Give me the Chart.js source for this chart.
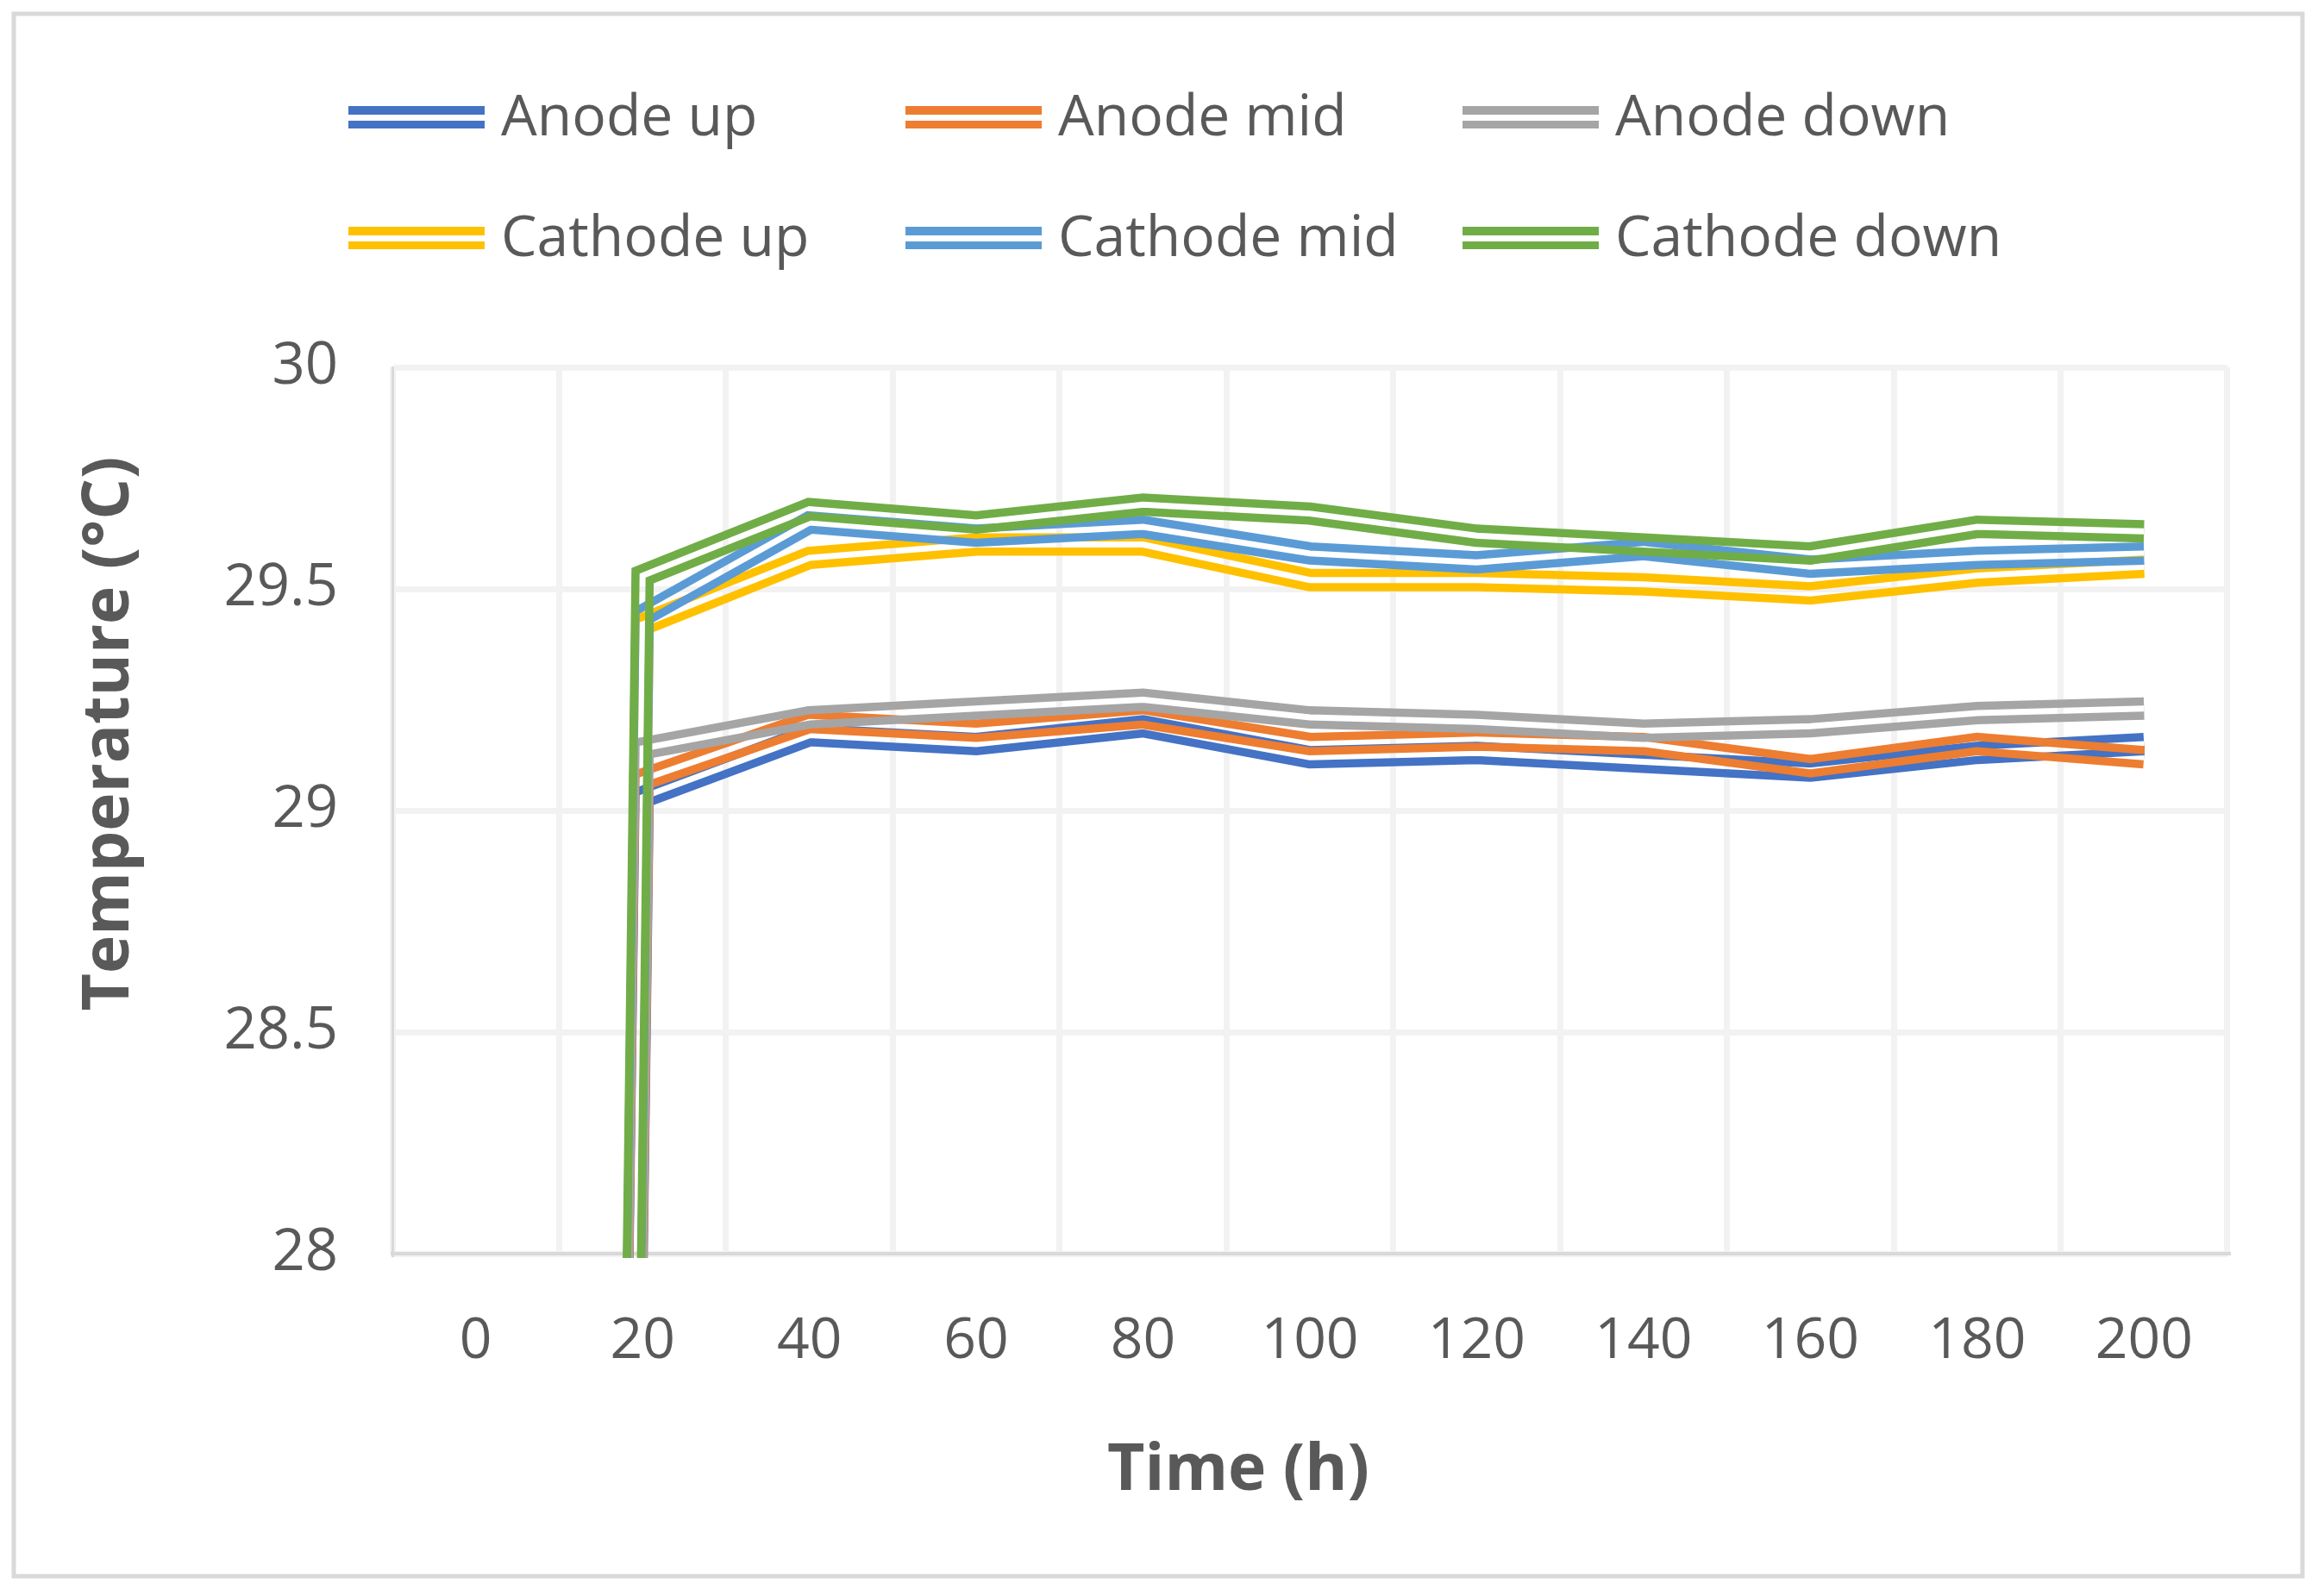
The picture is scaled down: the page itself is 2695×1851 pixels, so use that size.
<!DOCTYPE html>
<html>
<head>
<meta charset="utf-8">
<title>Temperature vs time</title>
<script src="https://cdn.jsdelivr.net/npm/chart.js@4.4.1/dist/chart.umd.min.js"></script>
<style>
    html, body { margin: 0; padding: 0; background: #fff; }
    #wrap { position: relative; width: 2695px; height: 1851px; }
</style>
</head>
<body>
<div id="wrap"><canvas id="tempChart" width="2695" height="1851"></canvas></div>
<script>
// values (time 0 sits at 0, far under the axis)
var timeLabels = ['0', '20', '40', '60', '80', '100', '120', '140', '160', '180', '200'];
var anodeUp     = [0, 29.03, 29.17, 29.15, 29.19, 29.12, 29.13, 29.11, 29.09, 29.13, 29.15];
var anodeMid    = [0, 29.07, 29.20, 29.18, 29.21, 29.15, 29.16, 29.15, 29.10, 29.15, 29.12];
var anodeDown   = [0, 29.14, 29.21, 29.23, 29.25, 29.21, 29.20, 29.18, 29.19, 29.22, 29.23];
var cathodeUp   = [0, 29.42, 29.57, 29.60, 29.60, 29.52, 29.52, 29.51, 29.49, 29.53, 29.55];
var cathodeMid  = [0, 29.44, 29.65, 29.62, 29.64, 29.58, 29.56, 29.59, 29.55, 29.57, 29.58];
var cathodeDown = [0, 29.53, 29.68, 29.65, 29.69, 29.67, 29.62, 29.60, 29.58, 29.64, 29.63];
var yTicks = [28, 28.5, 29, 29.5, 30];

var seriesNames = ['Anode up', 'Anode mid', 'Anode down', 'Cathode up', 'Cathode mid', 'Cathode down'];
var seriesData = [anodeUp, anodeMid, anodeDown, cathodeUp, cathodeMid, cathodeDown];
var seriesColors = ['#4472c4', '#ed7d31', '#a5a5a5', '#ffc000', '#5b9bd5', '#70ad47'];

var textColor = '#595959';
var fontFam = '"Open Sans", "Noto Sans", sans-serif';

// excel "double" line: full width, then cut the middle out
var lineW = 26;
var gapW = 7;

var frame = {
    id: 'frame',
    beforeDraw: function (chart) {
        var ctx = chart.ctx;
        ctx.save();
        ctx.fillStyle = '#fff';
        ctx.fillRect(0, 0, chart.width, chart.height);
        ctx.strokeStyle = '#d9d9d9';
        ctx.lineWidth = 5;
        ctx.strokeRect(16, 16, 2654, 1812);
        ctx.restore();
    }
};

var doubleLine = {
    id: 'doubleLine',
    afterDatasetsDraw: function (chart) {
        var area = chart.chartArea;
        var off = document.createElement('canvas');
        off.width = chart.canvas.width;
        off.height = chart.canvas.height;
        var octx = off.getContext('2d');

        chart.data.datasets.forEach(function (ds, i) {
            var pts = chart.getDatasetMeta(i).data;
            octx.clearRect(0, 0, off.width, off.height);
            octx.lineJoin = 'miter';
            octx.miterLimit = 10;
            octx.lineCap = 'butt';
            octx.beginPath();
            pts.forEach(function (p, k) {
                if (k == 0) {
                    octx.moveTo(p.x, p.y);
                } else {
                    octx.lineTo(p.x, p.y);
                }
            });
            octx.globalCompositeOperation = 'source-over';
            octx.strokeStyle = ds.borderColor;
            octx.lineWidth = lineW;
            octx.stroke();
            octx.globalCompositeOperation = 'destination-out';
            octx.lineWidth = gapW;
            octx.stroke();
            octx.globalCompositeOperation = 'source-over';

            var ctx = chart.ctx;
            ctx.save();
            ctx.beginPath();
            ctx.rect(area.left, area.top, area.right - area.left, area.bottom - area.top + 5);
            ctx.clip();
            ctx.drawImage(off, 0, 0);
            ctx.restore();
        });
    }
};

var legendAndTitles = {
    id: 'legendAndTitles',
    afterDraw: function (chart) {
        var ctx = chart.ctx;
        var textX = [581, 1227, 1873];
        var baseY = [157, 297];
        ctx.save();
        ctx.font = '66px ' + fontFam;
        ctx.textAlign = 'left';
        ctx.textBaseline = 'alphabetic';
        seriesNames.forEach(function (name, i) {
            var col = i % 3;
            var row = Math.floor(i / 3);
            var sx = textX[col] - 19 - 158;
            var cy = baseY[row] - 21;
            ctx.fillStyle = seriesColors[i];
            ctx.fillRect(sx, cy - 13, 158, 10);
            ctx.fillRect(sx, cy + 4, 158, 9);
            ctx.fillStyle = textColor;
            ctx.fillText(name, textX[col], baseY[row]);
        });

        ctx.font = 'bold 75px ' + fontFam;
        ctx.textAlign = 'center';
        ctx.fillText('Time (h)', 1436, 1728);

        ctx.translate(149, 851);
        ctx.rotate(-Math.PI / 2);
        ctx.fillText('Temperature (°C)', 0, 0);
        ctx.restore();
    }
};

var datasets = [];
for (var i = 0; i < seriesNames.length; i++) {
    datasets.push({
        label: seriesNames[i],
        data: seriesData[i],
        borderColor: seriesColors[i],
        backgroundColor: seriesColors[i],
        showLine: false,
        pointRadius: 0,
        pointHoverRadius: 0
    });
}

var ctx = document.getElementById('tempChart');
var tempChart = new Chart(ctx, {
    type: 'line',
    data: {
        labels: timeLabels,
        datasets: datasets
    },
    plugins: [frame, doubleLine, legendAndTitles],
    options: {
        responsive: false,
        devicePixelRatio: 1,
        animation: false,
        events: [],
        layout: {
            padding: {left: 60, right: 112, top: 426, bottom: 247}
        },
        plugins: {
            legend: {display: false},
            tooltip: {enabled: false}
        },
        scales: {
            x: {
                type: 'category',
                offset: true,
                grid: {
                    offset: true,
                    color: '#f2f2f2',
                    lineWidth: 7,
                    drawTicks: false
                },
                border: {color: '#d9d9d9', width: 4},
                ticks: {
                    color: textColor,
                    font: {family: fontFam, size: 66},
                    padding: 63,
                    maxRotation: 0,
                    autoSkip: false
                },
                afterFit: function (scale) {
                    scale.height = 150;
                }
            },
            y: {
                min: 28,
                max: 30,
                afterBuildTicks: function (axis) {
                    axis.ticks = yTicks.map(function (v) {
                        return {value: v};
                    });
                },
                grid: {
                    color: '#f2f2f2',
                    lineWidth: 7,
                    drawTicks: false
                },
                border: {color: '#d9d9d9', width: 3},
                ticks: {
                    color: textColor,
                    font: {family: fontFam, size: 67},
                    padding: 63,
                    callback: function (v) {
                        return String(v);
                    }
                },
                afterFit: function (scale) {
                    scale.width = 395;
                }
            }
        }
    }
});
</script>
</body>
</html>
